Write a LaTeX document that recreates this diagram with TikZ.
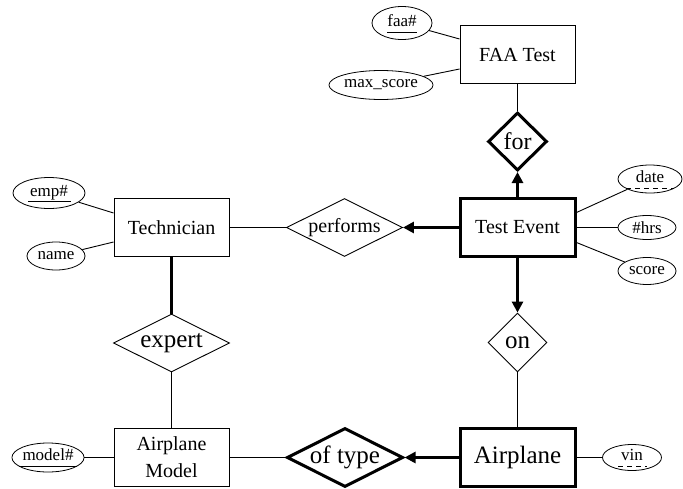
\documentclass[tikz,border=0pt]{standalone}
\usepackage{fontspec}
\setmainfont{Liberation Serif}
\usetikzlibrary{shapes.geometric,arrows.meta}
\begin{document}
\begin{tikzpicture}[x=1pt,y=-1pt,
  ent/.style={draw, rectangle, line width=0.9pt, minimum width=115pt, minimum height=58pt, inner sep=0pt, align=center, font=\fontsize{20}{27}\selectfont},
  went/.style={ent, line width=3pt},
  rel/.style={draw, diamond, aspect=2, inner sep=0pt, line width=0.9pt, minimum width=116pt, minimum height=58pt, font=\fontsize{25}{30}\selectfont},
  srel/.style={draw, diamond, aspect=1, inner sep=0pt, line width=0.9pt, minimum width=59pt, minimum height=58pt, font=\fontsize{25}{30}\selectfont},
  attr/.style={draw, ellipse, inner sep=0pt, line width=0.8pt, font=\fontsize{17}{20}\selectfont},
  keyattr/.style={attr, text depth=5pt},
  conn/.style={line width=0.9pt},
  tconn/.style={line width=3pt},
  arr/.style={tconn, -{Triangle[length=11pt,width=11pt]}},
  keyline/.style={line width=0.8pt},
  pkeyline/.style={line width=0.8pt, dash pattern=on 5pt off 4pt},
]
\useasboundingbox (0,0) rectangle (683,488);

% entities
\node[ent] (faatest) at (517.5,54.5) {FAA Test};
\node[went] (testevent) at (517.5,227.5) {Test Event};
\node[ent] (technician) at (171.5,227.5) {Technician};
\node[ent] (airplanemodel) at (171.5,457.5) {Airplane\\Model};
\node[went, font=\fontsize{25}{30}\selectfont] (airplane) at (517.5,457.5) {Airplane};

% relationships
\node[srel, line width=3pt, font=\fontsize{24}{28}\selectfont] (for) at (517.5,141.5) {for};
\node[rel, font=\fontsize{20}{24}\selectfont] (performs) at (344.5,227.5) {performs};
\node[rel] (expert) at (171.5,343) {expert};
\node[srel, minimum height=59pt] (on) at (517.5,342.5) {on};
\node[rel, line width=3pt, minimum height=59pt] (oftype) at (345,457.5) {of type};

% attributes
\node[keyattr, minimum width=60pt, minimum height=33pt] (faa) at (402,23) {faa\#};
\node[attr, minimum width=103pt, minimum height=29pt] (maxscore) at (381,85) {max\_score};
\node[keyattr, minimum width=72pt, minimum height=31pt] (emp) at (49,193) {emp\#};
\node[attr, minimum width=58pt, minimum height=28pt] (name) at (56,256) {name};
\node[keyattr, minimum width=70pt, minimum height=29pt] (model) at (48,457.5) {model\#};
\node[keyattr, minimum width=64pt, minimum height=28pt] (date) at (650,179) {date};
\node[attr, minimum width=58pt, minimum height=24pt] (hrs) at (647,227.5) {\#hrs};
\node[attr, minimum width=58pt, minimum height=27pt] (score) at (647,271) {score};
\node[keyattr, minimum width=59pt, minimum height=26pt] (vin) at (632,457.5) {vin};

% key underlines
\draw[keyline] (faa.base) ++(-15,5.5) -- ++(30,0);
\draw[keyline] (emp.base) ++(-21,5.5) -- ++(43,0);
\draw[keyline] (model.base) ++(-29,5.5) -- ++(58,0);
\draw[pkeyline] (date.base) ++(-24,5.5) -- ++(47,0);
\draw[pkeyline] (vin.base) ++(-14,5.5) -- ++(29,0);

% attribute connectors
\draw[conn] (faa) -- ([yshift=15.5pt]faatest.west);
\draw[conn] (maxscore) -- ([yshift=-14.5pt]faatest.west);
\draw[conn] (emp) -- ([yshift=14.5pt]technician.west);
\draw[conn] (name) -- ([yshift=-14.5pt]technician.west);
\draw[conn] (model) -- (airplanemodel);
\draw[conn] (date) -- ([yshift=15pt]testevent.east);
\draw[conn] (hrs) -- (testevent);
\draw[conn] (score) -- ([yshift=-15pt]testevent.east);
\draw[conn] (vin) -- (airplane);

% relationship connectors
\draw[conn] (faatest) -- (for);
\draw[arr] (testevent) -- (for);
\draw[arr] (testevent) -- (performs);
\draw[conn] (technician) -- (performs);
\draw[tconn] (technician) -- (expert);
\draw[conn] (expert) -- (airplanemodel);
\draw[arr] (testevent) -- (on);
\draw[conn] (on) -- (airplane);
\draw[conn] (airplanemodel) -- (oftype);
\draw[arr] (airplane) -- (oftype);
\end{tikzpicture}
\end{document}
